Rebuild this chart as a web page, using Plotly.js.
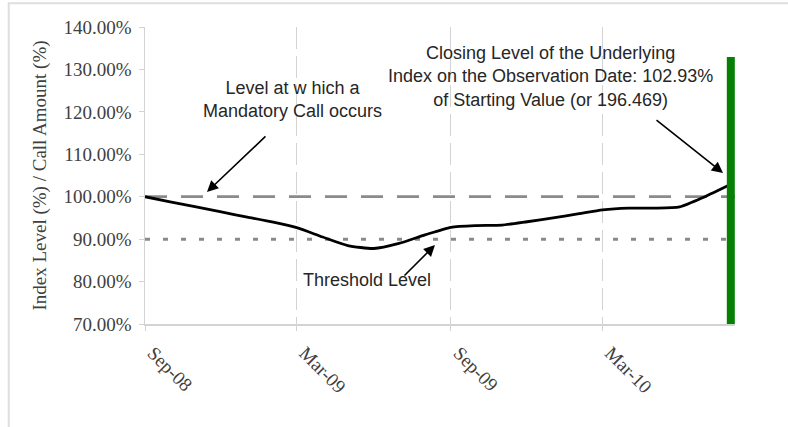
<!DOCTYPE html>
<html>
<head>
<meta charset="utf-8">
<script src="https://cdn.plot.ly/plotly-3.0.1.min.js"></script>
<style>
  html, body { margin: 0; padding: 0; background: #ffffff; }
  #chart { width: 788px; height: 427px; }
</style>
</head>
<body>
<div id="chart"></div>
<script>
// ---- Data ----
var dates = [
  "2008-09-01","2008-10-01","2008-11-01","2008-12-01","2009-01-01","2009-02-01",
  "2009-03-01","2009-04-01","2009-05-01","2009-06-01","2009-07-01","2009-08-01",
  "2009-09-01","2009-10-01","2009-11-01","2009-12-01","2010-01-01","2010-02-01",
  "2010-03-01","2010-04-01","2010-05-01","2010-06-01","2010-07-01","2010-08-01"
];
var indexLevel = [
  100.0, 98.8, 97.6, 96.4, 95.2, 94.0,
  92.7, 90.5, 88.5, 87.8, 89.0, 91.0,
  92.8, 93.2, 93.3, 94.1, 95.0, 96.0,
  96.9, 97.3, 97.3, 97.6, 100.0, 102.93
];
var mandatoryCallLevel = 100;
var thresholdLevel = 90;
var observationDate = "2010-08-01";
var observationBar = [70, 132.9];
var xRange = ["2008-09-01", "2010-08-06"];
var tickDates = ["2008-09-01", "2009-03-01", "2009-09-01", "2010-03-01"];
var tickLabels = ["Sep-08", "Mar-09", "Sep-09", "Mar-10"];
var yTicks = [70, 80, 90, 100, 110, 120, 130, 140];
var yTickLabels = yTicks.map(function (v) { return v.toFixed(2) + "%"; });

var traces = [
  {
    x: [xRange[0], xRange[1]],
    y: [mandatoryCallLevel, mandatoryCallLevel],
    mode: "lines",
    line: { color: "#8a8a8a", width: 2.7, dash: "22px,14px" },
    hoverinfo: "skip"
  },
  {
    x: [xRange[0], xRange[1]],
    y: [thresholdLevel, thresholdLevel],
    mode: "lines",
    line: { color: "#8a8a8a", width: 3, dash: "5px,13px" },
    hoverinfo: "skip"
  },
  {
    x: dates,
    y: indexLevel,
    mode: "lines",
    line: { color: "#000000", width: 2.8, shape: "spline", smoothing: 0.6 },
    hoverinfo: "skip"
  },
  {
    x: [observationDate, observationDate],
    y: observationBar,
    mode: "lines",
    line: { color: "#058005", width: 8 },
    hoverinfo: "skip"
  }
];

var annFont = { family: "Liberation Sans, Arial, sans-serif", size: 18, color: "#262626" };
var tickFont = { family: "Liberation Serif, Times New Roman, serif", size: 19, color: "#404040" };

var layout = {
  width: 788,
  height: 427,
  margin: { l: 145, r: 53, t: 27, b: 103 },
  paper_bgcolor: "#ffffff",
  plot_bgcolor: "#ffffff",
  showlegend: false,
  xaxis: {
    type: "date",
    range: xRange,
    tickvals: tickDates,
    ticktext: tickLabels,
    tickangle: 45,
    ticklabelstandoff: 4,
    ticklabelshift: 8,
    tickfont: tickFont,
    showgrid: true,
    gridcolor: "#d3d3d3",
    gridwidth: 1,
    griddash: "22px,7px",
    showline: true,
    linecolor: "#d3d3d3",
    linewidth: 1.5,
    ticks: "outside",
    ticklen: 5,
    tickcolor: "#d3d3d3",
    zeroline: false,
    fixedrange: true
  },
  yaxis: {
    range: [70, 140],
    tickvals: yTicks,
    ticktext: yTickLabels,
    tickfont: tickFont,
    ticklabelstandoff: 3,
    showgrid: false,
    showline: true,
    linecolor: "#d3d3d3",
    linewidth: 1.5,
    ticks: "outside",
    ticklen: 5,
    tickcolor: "#d3d3d3",
    zeroline: false,
    fixedrange: true,
    title: {
      text: "Index Level (%) / Call Amount (%)",
      font: { family: "Liberation Serif, Times New Roman, serif", size: 19, color: "#404040" },
      standoff: 12
    }
  },
  shapes: [
    {
      type: "rect", xref: "paper", yref: "paper",
      x0: -0.231, x1: 1.3, y0: -0.6, y1: 1.08,
      line: { color: "#dedede", width: 2 },
      fillcolor: "rgba(0,0,0,0)",
      layer: "below"
    }
  ],
  annotations: [
    {
      xref: "paper", yref: "paper", x: 0.2508, y: 0.756,
      xanchor: "center", yanchor: "middle", align: "center",
      text: "Level at w hich a<br>Mandatory Call occurs",
      showarrow: false, font: annFont
    },
    {
      xref: "paper", yref: "paper", x: 0.105, y: 0.4444,
      text: "", showarrow: true,
      ax: 60, ay: -57, arrowhead: 2, arrowsize: 1.4, arrowwidth: 1.6,
      arrowcolor: "#000000", standoff: 0, startstandoff: 0
    },
    {
      xref: "paper", yref: "paper", x: 0.377, y: 0.148,
      xanchor: "center", yanchor: "middle", align: "center",
      text: "Threshold Level",
      showarrow: false, font: annFont
    },
    {
      xref: "paper", yref: "paper", x: 0.4915, y: 0.266,
      text: "", showarrow: true,
      ax: -32, ay: 32, arrowhead: 2, arrowsize: 1.4, arrowwidth: 1.6,
      arrowcolor: "#000000", standoff: 0, startstandoff: 0
    },
    {
      xref: "paper", yref: "paper", x: 0.688, y: 0.8333,
      xanchor: "center", yanchor: "middle", align: "center",
      text: "Closing Level of the Underlying<br>Index on the Observation Date: 102.93%<br>of Starting Value (or 196.469)",
      showarrow: false, font: annFont
    },
    {
      xref: "paper", yref: "paper", x: 0.9797, y: 0.5084,
      text: "", showarrow: true,
      ax: -68, ay: -54, arrowhead: 2, arrowsize: 1.4, arrowwidth: 1.6,
      arrowcolor: "#000000", standoff: 0, startstandoff: 0
    }
  ]
};

Plotly.newPlot("chart", traces, layout, { staticPlot: true, displayModeBar: false });
</script>
</body>
</html>
